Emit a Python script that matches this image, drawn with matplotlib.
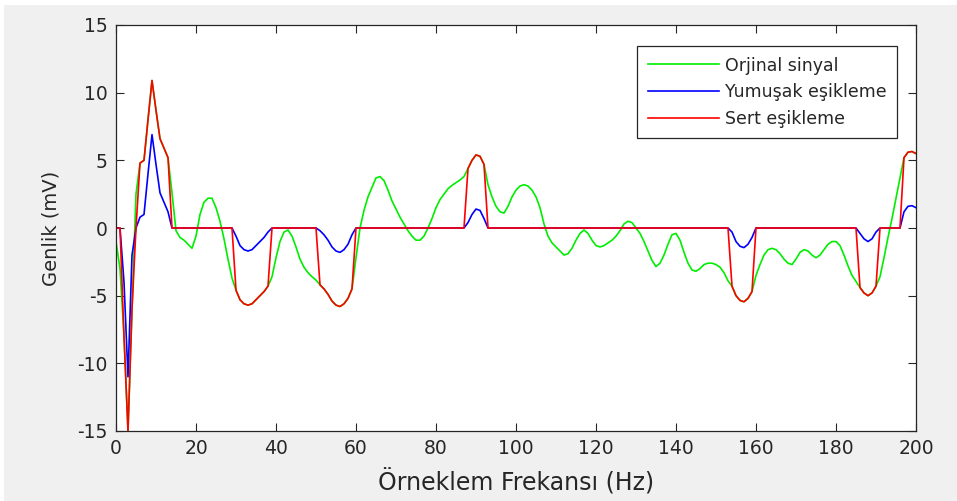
import matplotlib
matplotlib.use("Agg")
import matplotlib.pyplot as plt
from matplotlib.patches import Rectangle

plt.rcParams["axes.unicode_minus"] = False

# sample index (Hz), 0..200
freq = list(range(201))

# original signal (mV)
orjinal = [
    -1.0, -3.0, -8.0, -15.0, -6.0, 2.5, 4.8, 5.0, 8.0, 10.9,
    8.7, 6.6, 5.9, 5.2, 2.6, -0.2, -0.7, -0.9, -1.2, -1.5,
    -0.6, 1.0, 1.9, 2.2, 2.2, 1.5, 0.5, -0.8, -2.3, -3.7,
    -4.6, -5.3, -5.6, -5.7, -5.6, -5.3, -5.0, -4.7, -4.3, -3.6,
    -2.2, -1.0, -0.3, -0.15, -0.6, -1.4, -2.3, -2.9, -3.3, -3.6,
    -3.85, -4.2, -4.5, -4.9, -5.4, -5.7, -5.8, -5.6, -5.2, -4.5,
    -2.2, 0.0, 1.3, 2.3, 3.0, 3.7, 3.8, 3.5, 2.8, 2.0,
    1.4, 0.8, 0.3, -0.2, -0.6, -0.9, -0.9, -0.6, 0.0, 0.7,
    1.5, 2.1, 2.5, 2.9, 3.15, 3.35, 3.55, 3.8, 4.4, 5.0,
    5.4, 5.3, 4.7, 3.2, 2.3, 1.6, 1.2, 1.1, 1.6, 2.3,
    2.8, 3.1, 3.2, 3.1, 2.8, 2.3, 1.5, 0.3, -0.6, -1.1,
    -1.4, -1.7, -2.0, -1.9, -1.5, -0.9, -0.4, -0.15, -0.4, -0.9,
    -1.3, -1.4, -1.3, -1.1, -0.9, -0.6, -0.2, 0.3, 0.5, 0.4,
    0.0, -0.4, -1.0, -1.7, -2.4, -2.85, -2.6, -2.0, -1.2, -0.5,
    -0.4, -0.9, -1.8, -2.6, -3.1, -3.2, -3.0, -2.7, -2.6, -2.6,
    -2.7, -2.9, -3.3, -3.9, -4.3, -5.0, -5.35, -5.45, -5.2, -4.7,
    -3.5, -2.7, -2.0, -1.6, -1.5, -1.6, -1.9, -2.3, -2.6, -2.7,
    -2.3, -1.8, -1.6, -1.7, -2.0, -2.2, -2.0, -1.6, -1.2, -1.0,
    -1.0, -1.3, -2.0, -2.8, -3.5, -3.95, -4.4, -4.8, -5.0, -4.8,
    -4.3, -3.6, -2.2, -0.7, 0.7, 2.2, 3.7, 5.2, 5.6, 5.65,
    5.5,
]

# soft thresholded signal (blue)
yumusak = [
    0, 0, -4.0, -11.0, -2.0, 0, 0.8, 1.0, 4.0, 6.9,
    4.7, 2.6, 1.9, 1.2, 0, 0, 0, 0, 0, 0,
    0, 0, 0, 0, 0, 0, 0, 0, 0, 0,
    -0.6, -1.3, -1.6, -1.7, -1.6, -1.3, -1.0, -0.7, -0.3, 0,
    0, 0, 0, 0, 0, 0, 0, 0, 0, 0,
    0, -0.2, -0.5, -0.9, -1.4, -1.7, -1.8, -1.6, -1.2, -0.5,
    0, 0, 0, 0, 0, 0, 0, 0, 0, 0,
    0, 0, 0, 0, 0, 0, 0, 0, 0, 0,
    0, 0, 0, 0, 0, 0, 0, 0, 0.4, 1.0,
    1.4, 1.3, 0.7, 0, 0, 0, 0, 0, 0, 0,
    0, 0, 0, 0, 0, 0, 0, 0, 0, 0,
    0, 0, 0, 0, 0, 0, 0, 0, 0, 0,
    0, 0, 0, 0, 0, 0, 0, 0, 0, 0,
    0, 0, 0, 0, 0, 0, 0, 0, 0, 0,
    0, 0, 0, 0, 0, 0, 0, 0, 0, 0,
    0, 0, 0, 0, -0.3, -1.0, -1.35, -1.45, -1.2, -0.7,
    0, 0, 0, 0, 0, 0, 0, 0, 0, 0,
    0, 0, 0, 0, 0, 0, 0, 0, 0, 0,
    0, 0, 0, 0, 0, 0, -0.4, -0.8, -1.0, -0.8,
    -0.3, 0, 0, 0, 0, 0, 0, 1.2, 1.6, 1.65,
    1.5,
]

# hard thresholded signal (red)
sert = [
    0, 0, -8.0, -15.0, -6.0, 0, 4.8, 5.0, 8.0, 10.9,
    8.7, 6.6, 5.9, 5.2, 0, 0, 0, 0, 0, 0,
    0, 0, 0, 0, 0, 0, 0, 0, 0, 0,
    -4.6, -5.3, -5.6, -5.7, -5.6, -5.3, -5.0, -4.7, -4.3, 0,
    0, 0, 0, 0, 0, 0, 0, 0, 0, 0,
    0, -4.2, -4.5, -4.9, -5.4, -5.7, -5.8, -5.6, -5.2, -4.5,
    0, 0, 0, 0, 0, 0, 0, 0, 0, 0,
    0, 0, 0, 0, 0, 0, 0, 0, 0, 0,
    0, 0, 0, 0, 0, 0, 0, 0, 4.4, 5.0,
    5.4, 5.3, 4.7, 0, 0, 0, 0, 0, 0, 0,
    0, 0, 0, 0, 0, 0, 0, 0, 0, 0,
    0, 0, 0, 0, 0, 0, 0, 0, 0, 0,
    0, 0, 0, 0, 0, 0, 0, 0, 0, 0,
    0, 0, 0, 0, 0, 0, 0, 0, 0, 0,
    0, 0, 0, 0, 0, 0, 0, 0, 0, 0,
    0, 0, 0, 0, -4.3, -5.0, -5.35, -5.45, -5.2, -4.7,
    0, 0, 0, 0, 0, 0, 0, 0, 0, 0,
    0, 0, 0, 0, 0, 0, 0, 0, 0, 0,
    0, 0, 0, 0, 0, 0, -4.4, -4.8, -5.0, -4.8,
    -4.3, 0, 0, 0, 0, 0, 0, 5.2, 5.6, 5.65,
    5.5,
]

labels = ["Orjinal sinyal", "Yumuşak eşikleme", "Sert eşikleme"]
xticks = list(range(0, 201, 20))
yticks = list(range(-15, 16, 5))

dark = "#262626"
fig = plt.figure(figsize=(9.57, 5.01), dpi=100, facecolor="white")
# MATLAB grey figure area, with the thin white margin of the screenshot
fig.patches.append(Rectangle((0.004, 0), 0.996, 0.99, transform=fig.transFigure,
                             facecolor="#f0f0f0", edgecolor="none", zorder=-10))
ax = fig.add_axes([116 / 957, 70 / 501, 800 / 957, 406 / 501])
ax.set_facecolor("white")

ax.plot(freq, orjinal, color="#00ee00", lw=1.2, label=labels[0])
ax.plot(freq, yumusak, color="#0000ff", lw=1.2, label=labels[1])
ax.plot(freq, sert, color="#ff0000", lw=1.2, label=labels[2])

ax.set_xlim(0, 200)
ax.set_ylim(-15, 15)
ax.set_xticks(xticks)
ax.set_yticks(yticks)
ax.tick_params(direction="in", length=6, width=0.8, colors=dark, labelsize=13.5,
               top=True, right=True, pad=6)
for s in ax.spines.values():
    s.set_color(dark)
    s.set_linewidth(0.9)

ax.set_xlabel("Örneklem Frekansı (Hz)", fontsize=17, color=dark, labelpad=8)
ax.set_ylabel("Genlik (mV)", fontsize=14, color=dark, labelpad=12)

leg = ax.legend(loc="upper right", bbox_to_anchor=(0.976, 0.948), borderaxespad=0,
                fontsize=12.5, fancybox=False, framealpha=1, edgecolor=dark,
                handlelength=4.1, handletextpad=0.35, labelspacing=0.5, borderpad=0.6)
leg.get_frame().set_linewidth(0.9)
for t in leg.get_texts():
    t.set_color(dark)

fig.savefig("out.png", dpi=100, facecolor=fig.get_facecolor())
